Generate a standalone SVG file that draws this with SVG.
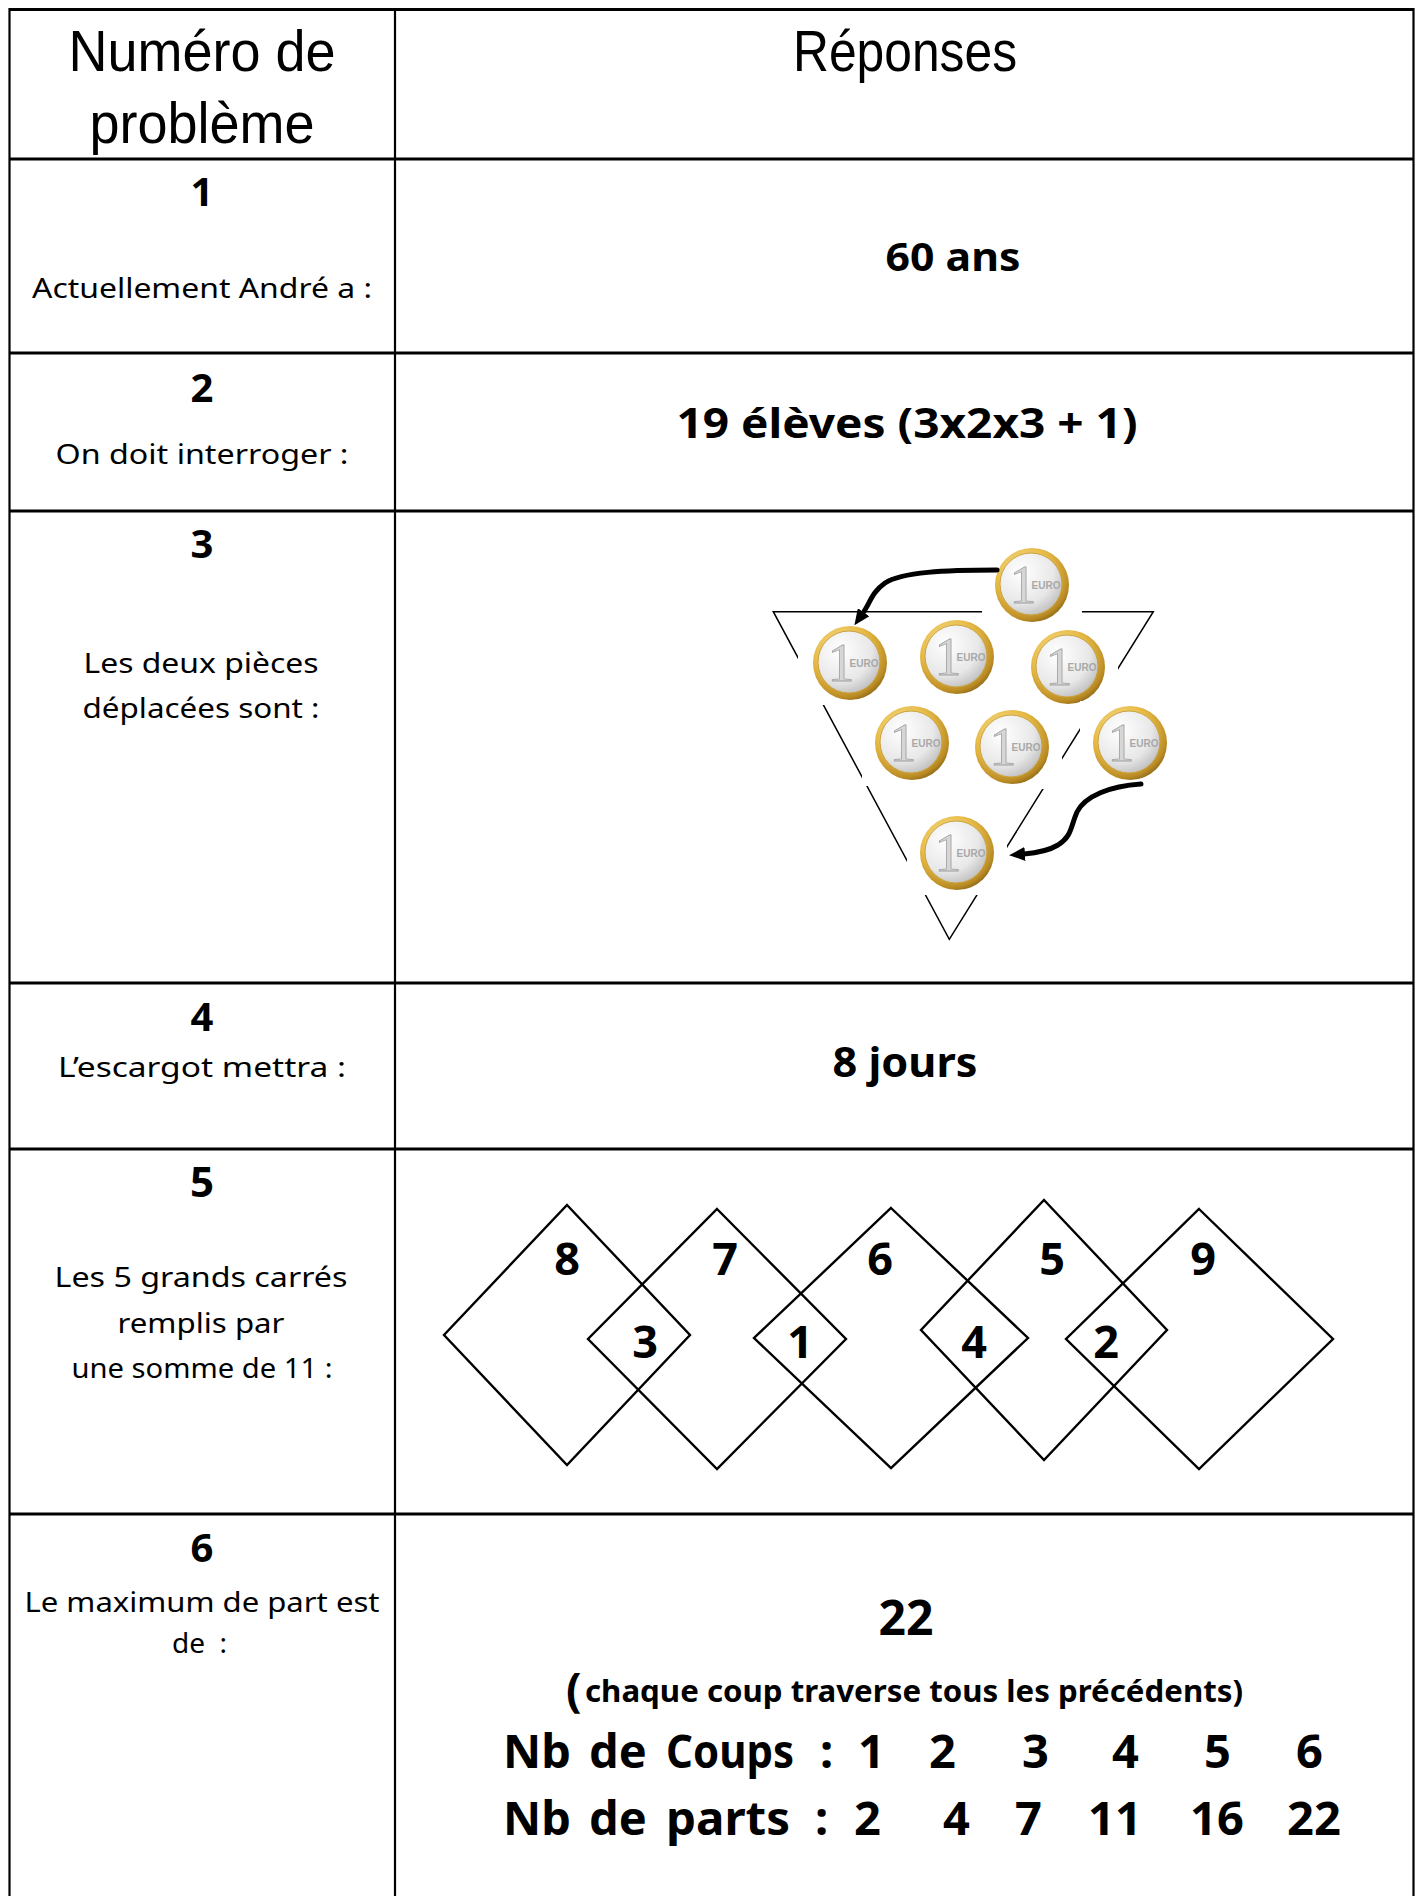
<svg xmlns="http://www.w3.org/2000/svg" width="1420" height="1896" viewBox="0 0 1420 1896">
<style>
  text { font-family: 'Noto Sans', 'DejaVu Sans', sans-serif; fill: #000; }
  .hd { font-family: 'Liberation Sans', 'Noto Sans', sans-serif; font-weight: normal; }
  .r { font-weight: normal; }
  .b { font-weight: bold; }
  .mid { text-anchor: middle; }
  .grid { stroke: #000; fill: none; }
  .hl { stroke-width: 2.8; }
  .vl { stroke-width: 2.2; }
  .sq { fill: none; stroke: #000; stroke-width: 2.4; stroke-linejoin: miter; }
  .tri { fill: none; stroke: #000; stroke-width: 1.5; }
  .arrow { fill: none; stroke: #000; stroke-width: 5; stroke-linecap: round; }
  .bg { fill: #fff; }
</style>
<defs>
  <radialGradient id="gold" cx="0.4" cy="0.35" r="0.72">
    <stop offset="0" stop-color="#fff2b0"/>
    <stop offset="0.55" stop-color="#e6b945"/>
    <stop offset="0.85" stop-color="#bb8c24"/>
    <stop offset="1" stop-color="#7d5c12"/>
  </radialGradient>
  <radialGradient id="silver" cx="0.35" cy="0.3" r="0.85">
    <stop offset="0" stop-color="#ffffff"/>
    <stop offset="0.6" stop-color="#e8e8e8"/>
    <stop offset="1" stop-color="#b0b0b0"/>
  </radialGradient>
  <g id="coin">
    <circle r="37" fill="url(#gold)"/>
    <circle r="31" cx="-1" cy="-1" fill="url(#silver)" stroke="#caa23c" stroke-width="1"/>
    <text x="-9" y="18" text-anchor="middle" style="font-family:'Liberation Serif',serif;font-size:54px;fill:#d6d6d6;stroke:#a0a0a0;stroke-width:0.8">1</text>
    <text x="14" y="4" text-anchor="middle" style="font-family:'Liberation Sans',sans-serif;font-size:10px;font-weight:bold;fill:#a8a8a8">EURO</text>
  </g>
  <marker id="ah" viewBox="0 0 16 14" markerWidth="16" markerHeight="14" refX="1" refY="7" orient="auto" markerUnits="userSpaceOnUse">
    <path d="M0,0 L16,7 L0,14 z" fill="#000"/>
  </marker>
</defs>

<rect width="1420" height="1896" fill="#fff"/>

<g id="table" class="grid">
  <line class="hl" x1="9.5" y1="9.5" x2="1413.5" y2="9.5"/>
  <line class="hl" x1="9.5" y1="159" x2="1413.5" y2="159"/>
  <line class="hl" x1="9.5" y1="353" x2="1413.5" y2="353"/>
  <line class="hl" x1="9.5" y1="511" x2="1413.5" y2="511"/>
  <line class="hl" x1="9.5" y1="983" x2="1413.5" y2="983"/>
  <line class="hl" x1="9.5" y1="1149" x2="1413.5" y2="1149"/>
  <line class="hl" x1="9.5" y1="1514" x2="1413.5" y2="1514"/>
  <line class="vl" x1="9.5" y1="8" x2="9.5" y2="1896"/>
  <line class="vl" x1="395" y1="8" x2="395" y2="1896"/>
  <line class="vl" x1="1413.5" y1="8" x2="1413.5" y2="1896"/>
</g>

<g id="header">
  <text class="hd mid" x="202" y="71" font-size="58" textLength="267" lengthAdjust="spacingAndGlyphs">Numéro de</text>
  <text class="hd mid" x="202" y="143" font-size="58" textLength="225" lengthAdjust="spacingAndGlyphs">problème</text>
  <text class="hd mid" x="905" y="71" font-size="58" textLength="224" lengthAdjust="spacingAndGlyphs">Réponses</text>
</g>

<g id="row1">
  <text class="b mid" x="202" y="206" font-size="40">1</text>
  <text class="r mid" x="202" y="298" font-size="28" textLength="340" lengthAdjust="spacingAndGlyphs">Actuellement André a :</text>
  <text class="b mid" x="953" y="271" font-size="39" textLength="135" lengthAdjust="spacingAndGlyphs">60 ans</text>
</g>

<g id="row2">
  <text class="b mid" x="202" y="402" font-size="40">2</text>
  <text class="r mid" x="202" y="464" font-size="28" textLength="293" lengthAdjust="spacingAndGlyphs">On doit interroger :</text>
  <text class="b mid" x="907" y="438" font-size="42" textLength="461" lengthAdjust="spacingAndGlyphs">19 élèves (3x2x3 + 1)</text>
</g>

<g id="row3">
  <text class="b mid" x="202" y="558" font-size="40">3</text>
  <text class="r mid" x="201" y="673" font-size="28" textLength="235" lengthAdjust="spacingAndGlyphs">Les deux pièces</text>
  <text class="r mid" x="201" y="718" font-size="28" textLength="237" lengthAdjust="spacingAndGlyphs">déplacées sont :</text>
</g>

<g id="coins">
  <polygon class="tri" points="773.3,611.7 1153.3,611.7 949.3,939.3"/>
  <g id="coin-a"><rect class="bg" x="982" y="543" width="100" height="84"/><use href="#coin" x="1032" y="585"/></g>
  <g id="coin-b"><rect class="bg" x="798" y="621" width="102" height="84"/><use href="#coin" x="850" y="663"/></g>
  <g id="coin-c"><rect class="bg" x="907" y="615" width="100" height="84"/><use href="#coin" x="957" y="657"/></g>
  <g id="coin-d"><rect class="bg" x="1018" y="625" width="100" height="84"/><use href="#coin" x="1068" y="667"/></g>
  <g id="coin-e"><rect class="bg" x="862" y="701" width="100" height="85"/><use href="#coin" x="912" y="743"/></g>
  <g id="coin-f"><rect class="bg" x="962" y="705" width="100" height="84"/><use href="#coin" x="1012" y="747"/></g>
  <g id="coin-g"><rect class="bg" x="1080" y="701" width="100" height="84"/><use href="#coin" x="1130" y="743"/></g>
  <g id="coin-h"><rect class="bg" x="907" y="811" width="100" height="84"/><use href="#coin" x="957" y="853"/></g>
</g>

<g id="connectors">
  <path class="arrow" marker-end="url(#ah)" d="M997,570 C945,570 902,572 885,583 C872,592 870,603 863,613"/>
  <path class="arrow" marker-end="url(#ah)" d="M1141,784 C1110,786 1085,796 1077,812 C1070,828 1072,836 1058,845 C1048,851 1036,853 1024,854"/>
</g>

<g id="row4">
  <text class="b mid" x="202" y="1031" font-size="40">4</text>
  <text class="r mid" x="202" y="1077" font-size="28" textLength="288" lengthAdjust="spacingAndGlyphs">L’escargot mettra :</text>
  <text class="b mid" x="905" y="1077" font-size="42" textLength="145" lengthAdjust="spacingAndGlyphs">8 jours</text>
</g>

<g id="row5">
  <text class="b mid" x="202" y="1197" font-size="42">5</text>
  <text class="r mid" x="201" y="1287" font-size="28" textLength="293" lengthAdjust="spacingAndGlyphs">Les 5 grands carrés</text>
  <text class="r mid" x="201" y="1333" font-size="28" textLength="167" lengthAdjust="spacingAndGlyphs">remplis par</text>
  <text class="r mid" x="202" y="1378" font-size="28" textLength="261" lengthAdjust="spacingAndGlyphs">une somme de 11 :</text>
</g>

<g id="squares">
  <polygon class="sq" points="567,1205 690,1335 567,1465 444,1335"/>
  <polygon class="sq" points="717,1209 846,1339 717,1469 588,1339"/>
  <polygon class="sq" points="891,1208 1028,1338 891,1468 754,1338"/>
  <polygon class="sq" points="1044,1200 1167,1330 1044,1460 921,1330"/>
  <polygon class="sq" points="1199,1209 1333,1339 1199,1469 1066,1339"/>
  <text class="b mid" x="567" y="1275" font-size="45">8</text>
  <text class="b mid" x="725" y="1275" font-size="45">7</text>
  <text class="b mid" x="880" y="1275" font-size="45">6</text>
  <text class="b mid" x="1052" y="1275" font-size="45">5</text>
  <text class="b mid" x="1203" y="1275" font-size="45">9</text>
  <text class="b mid" x="645" y="1358" font-size="45">3</text>
  <text class="b mid" x="800" y="1358" font-size="45">1</text>
  <text class="b mid" x="974" y="1358" font-size="45">4</text>
  <text class="b mid" x="1106" y="1358" font-size="45">2</text>
</g>

<g id="row6">
  <text class="b mid" x="202" y="1562" font-size="40">6</text>
  <text class="r mid" x="202" y="1612" font-size="28" textLength="355" lengthAdjust="spacingAndGlyphs">Le maximum de part est</text>
  <text class="r" x="172" y="1653" font-size="28" xml:space="preserve">de  :</text>
  <text class="b mid" x="906" y="1635" font-size="48">22</text>
  <text class="b" y="1702"><tspan x="566" y="1706" font-size="46">(</tspan><tspan x="585" y="1702" font-size="31" textLength="658" lengthAdjust="spacingAndGlyphs">chaque coup traverse tous les précédents)</tspan></text>
  <text class="b" y="1768" font-size="47"><tspan x="503">Nb</tspan><tspan x="589">de</tspan><tspan x="666" textLength="128" lengthAdjust="spacingAndGlyphs">Coups</tspan><tspan x="820">:</tspan><tspan x="858">1</tspan><tspan x="929">2</tspan><tspan x="1022">3</tspan><tspan x="1112">4</tspan><tspan x="1204">5</tspan><tspan x="1296">6</tspan></text>
  <text class="b" y="1835" font-size="47"><tspan x="503">Nb</tspan><tspan x="589">de</tspan><tspan x="666" textLength="124" lengthAdjust="spacingAndGlyphs">parts</tspan><tspan x="815">:</tspan><tspan x="854">2</tspan><tspan x="943">4</tspan><tspan x="1015">7</tspan><tspan x="1088">11</tspan><tspan x="1190">16</tspan><tspan x="1287">22</tspan></text>
</g>
</svg>
